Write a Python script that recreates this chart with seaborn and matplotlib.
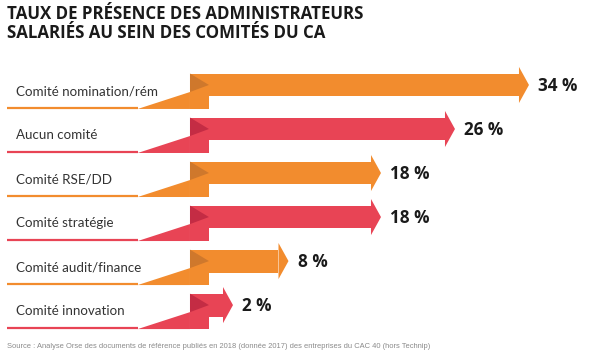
import numpy as np
import pandas as pd
import matplotlib
matplotlib.use("Agg")
import matplotlib.pyplot as plt
import seaborn as sns

sns.set_theme(style="white")

# data
categories = ["Comité nomination/rém", "Aucun comité", "Comité RSE/DD",
              "Comité stratégie", "Comité audit/finance", "Comité innovation"]
values = [34, 26, 18, 18, 8, 2]
value_labels = ["34 %", "26 %", "18 %", "18 %", "8 %", "2 %"]
title = "TAUX DE PRÉSENCE DES ADMINISTRATEURS\nSALARIÉS AU SEIN DES COMITÉS DU CA"
source = ("Source : Analyse Orse des documents de référence publiés en 2018 "
          "(donnée 2017) des entreprises du CAC 40 (hors Technip)")

orange, red = "#f28c2e", "#e84455"
orange_dk, red_dk = "#cf782c", "#c42c44"
colors = [orange, red, orange, red, orange, red]
darks = [orange_dk, red_dk, orange_dk, red_dk, orange_dk, red_dk]

# arrow geometry (data units: x in %, y in rows)
head_len = 1.08
head_half = 0.41
bar_h = 0.52
fold_x0, fold_x1 = -2.65, -0.6
wedge_x0 = -8.3
line_x0 = -22.4
low_y = 0.545

df = pd.DataFrame({"category": categories, "value": values})
df["shaft"] = df["value"] - head_len - fold_x0

fig = plt.figure(figsize=(6, 3.61), dpi=100)
ax = fig.add_axes([0, 0, 1, 1])

sns.barplot(data=df, x="shaft", y="category", hue="category", palette=colors,
            width=bar_h, left=fold_x0, legend=False, ax=ax, saturation=1,
            edgecolor="none")

for i, (v, c, d) in enumerate(zip(values, colors, darks)):
    # head
    ax.fill([v - head_len, v, v - head_len], [i - head_half, i, i + head_half],
            color=c, lw=0)
    # lower fold part
    ax.fill([fold_x0, fold_x1, fold_x1, fold_x0],
            [i + bar_h / 2 - 0.01, i + bar_h / 2 - 0.01, i + low_y, i + low_y],
            color=c, lw=0)
    # wedge
    ax.fill([wedge_x0, fold_x0, fold_x0], [i + low_y, i + 0.16, i + low_y],
            color=c, lw=0)
    # dark fold triangle
    ax.fill([fold_x0, fold_x1, fold_x0], [i - bar_h / 2, i, i + 0.16],
            color=d, lw=0)
    # base line
    ax.plot([line_x0, wedge_x0], [i + low_y - 0.02, i + low_y - 0.02],
            color=c, lw=1.6, solid_capstyle="butt")
    ax.text(line_x0 + 0.9, i + 0.14, categories[i], fontsize=9.6,
            color="#333333", va="center", ha="left", family="Lato")
    ax.text(v + 1.0, i + 0.02, value_labels[i], fontsize=12.3, fontweight="bold",
            color="#1a1a1a", va="center", ha="left", family="Open Sans")

ax.set_xlim(-23.19, 41.68)
ax.set_ylim(6.27, -1.93)
ax.axis("off")

fig.text(7 / 600, 1 - 5 / 361, title, fontsize=12.2, fontweight="bold",
         color="#1a1a1a", va="top", ha="left", family="Open Sans",
         linespacing=1.1)
fig.text(7 / 600, 1 - 347 / 361, source, fontsize=5.45, color="#8a8a8a",
         va="center", ha="left", family="Liberation Sans")

fig.savefig("out.png", dpi=100, facecolor="white")
